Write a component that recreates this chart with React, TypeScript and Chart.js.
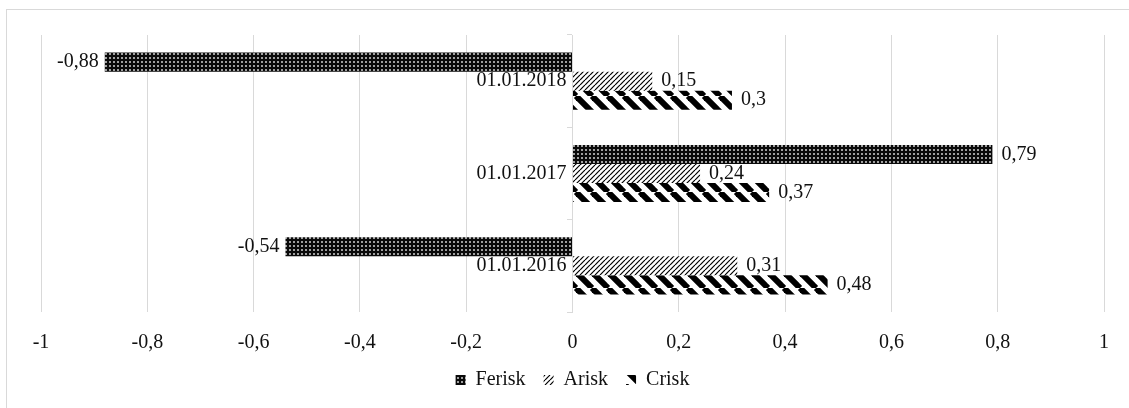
import React, { useEffect, useRef } from 'react';
import { Chart, registerables } from 'chart.js';

Chart.register(...registerables);

const categories = ['01.01.2018', '01.01.2017', '01.01.2016'];
const seriesNames = ['Ferisk', 'Arisk', 'Crisk'];
const feriskValues = [-0.88, 0.79, -0.54];
const ariskValues = [0.15, 0.24, 0.31];
const criskValues = [0.3, 0.37, 0.48];
const xMin = -1;
const xMax = 1;
const xStep = 0.2;

const FONT = '"Liberation Serif", "Times New Roman", serif';
const TEXT = '#111111';
const GRID = '#d9d9d9';

const fmt = (v: number) => String(Math.round(v * 100) / 100).replace('.', ',');

function makePattern(kind: string): CanvasPattern | string {
  const c = document.createElement('canvas');
  const g = c.getContext('2d');
  if (!g) return '#000';
  if (kind === 'ferisk') {
    c.width = 4;
    c.height = 4;
    g.fillStyle = '#0a0a0a';
    g.fillRect(0, 0, 4, 4);
    g.fillStyle = '#a0a0a0';
    g.fillRect(1, 1, 2, 2);
  } else if (kind === 'arisk') {
    const s = 5;
    c.width = s;
    c.height = s;
    g.fillStyle = '#ffffff';
    g.fillRect(0, 0, s, s);
    g.strokeStyle = '#000000';
    g.lineWidth = 1.2;
    for (const o of [-s, 0, s]) {
      g.beginPath();
      g.moveTo(o, s);
      g.lineTo(o + s, 0);
      g.stroke();
    }
  } else {
    const s = 16;
    c.width = s;
    c.height = s;
    g.fillStyle = '#ffffff';
    g.fillRect(0, 0, s, s);
    g.strokeStyle = '#000000';
    g.lineWidth = 6;
    for (const o of [-s, 0, s]) {
      g.beginPath();
      g.moveTo(o, 0);
      g.lineTo(o + s, s);
      g.stroke();
    }
  }
  return g.createPattern(c, 'repeat') || '#000';
}

const dataLabelPlugin = {
  id: 'dataLabels',
  afterDatasetsDraw(chart: any) {
    const ctx = chart.ctx;
    ctx.save();
    ctx.font = `20px ${FONT}`;
    ctx.fillStyle = TEXT;
    ctx.textBaseline = 'middle';
    chart.data.datasets.forEach((ds: any, i: number) => {
      const meta = chart.getDatasetMeta(i);
      meta.data.forEach((el: any, j: number) => {
        const v = ds.data[j] as number;
        const { x, y } = el.getProps(['x', 'y'], true);
        if (v >= 0) {
          ctx.textAlign = 'left';
          ctx.fillText(fmt(v), x + 9, y);
        } else {
          ctx.textAlign = 'right';
          ctx.fillText(fmt(v), x - 6, y);
        }
      });
    });
    // category labels beside the zero line
    const xs = chart.scales.x;
    const ys = chart.scales.y;
    const x0 = xs.getPixelForValue(0);
    ctx.textAlign = 'right';
    chart.data.labels.forEach((lab: string, j: number) => {
      ctx.fillText(lab, x0 - 6, ys.getPixelForValue(j));
    });
    ctx.restore();
  },
};

export default function App() {
  const ref = useRef<HTMLCanvasElement | null>(null);

  useEffect(() => {
    document.body.style.margin = '0';
    document.body.style.overflow = 'hidden';
    if (!ref.current) return;
    const values = [feriskValues, ariskValues, criskValues];
    const kinds = ['ferisk', 'arisk', 'crisk'];
    const chart = new Chart(ref.current, {
      type: 'bar',
      data: {
        labels: categories,
        datasets: seriesNames.map((name, i) => ({
          label: name,
          data: values[i],
          backgroundColor: makePattern(kinds[i]) as any,
          borderWidth: 0,
          categoryPercentage: 0.62,
          barPercentage: 1,
        })),
      },
      options: {
        indexAxis: 'y',
        animation: false,
        responsive: true,
        maintainAspectRatio: false,
        layout: { padding: { left: 41, right: 25, top: 35, bottom: 8 } },
        scales: {
          x: {
            type: 'linear',
            min: xMin,
            max: xMax,
            afterFit: (scale: any) => {
              scale.height = 40;
            },
            ticks: {
              stepSize: xStep,
              padding: 19,
              color: TEXT,
              font: { family: FONT, size: 20 },
              callback: (v: any) => fmt(Number(v)),
            },
            grid: { color: GRID, drawTicks: false, lineWidth: 1 },
            border: { display: false },
          },
          y: {
            type: 'category',
            position: { x: 0 } as any,
            ticks: {
              padding: 8,
              color: 'rgba(0,0,0,0)',
              font: { family: FONT, size: 20 },
            },
            grid: { drawOnChartArea: false, drawTicks: true, tickLength: 5, color: GRID },
            border: { display: true, color: GRID },
          },
        },
        plugins: {
          legend: {
            position: 'bottom',
            labels: {
              boxWidth: 10,
              boxHeight: 10,
              padding: 18,
              color: TEXT,
              font: { family: FONT, size: 20 },
            },
          },
          tooltip: { enabled: false },
        },
      },
      plugins: [dataLabelPlugin],
    });
    return () => chart.destroy();
  }, []);

  return (
    <div style={{ position: 'relative', width: 1129, height: 408, overflow: 'hidden', background: '#fff' }}>
      <div
        style={{
          position: 'absolute',
          left: 6,
          top: 9,
          width: 1129,
          height: 408,
          border: `1px solid ${GRID}`,
          boxSizing: 'border-box',
        }}
      />
      <div style={{ position: 'absolute', left: 0, top: 0, width: 1129, height: 408 }}>
        <canvas ref={ref} />
      </div>
    </div>
  );
}
